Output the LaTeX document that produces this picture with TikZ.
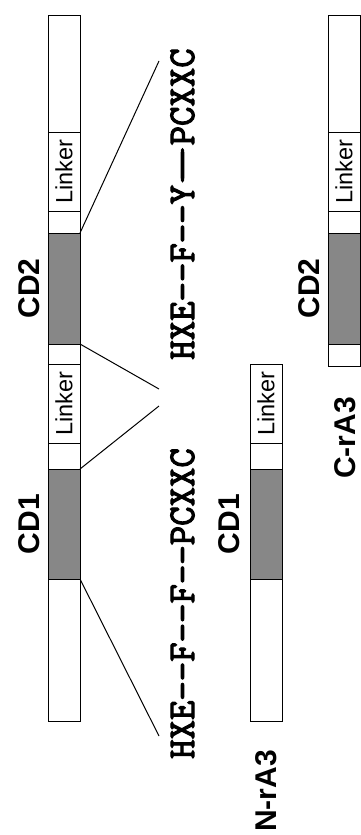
\documentclass[tikz,border=0pt]{standalone}
\usepackage{fontspec}
\setsansfont{Liberation Sans}
\setmonofont{Latin Modern Mono}[FakeBold=3]
\usepackage{graphicx}
\usetikzlibrary{positioning}

\tikzset{
	seg/.style={draw, line width=1pt, fill=white, minimum width=32pt, inner sep=0pt, outer sep=0pt},
	cd/.style={seg, fill=black!47},
	lnk/.style={seg, font=\sffamily\fontsize{23.5}{24}\selectfont},
	lbl/.style={inner sep=0pt, font=\sffamily\bfseries\fontsize{30}{31}\selectfont},
	sq/.style={inner sep=0pt, font=\ttfamily\fontsize{37.7}{38}\selectfont},
	conn/.style={line width=1pt}
}
\newcommand{\longdash}{\makebox[1.05em]{\scalebox{2.1}[1]{—}}}

\begin{document}
\begin{tikzpicture}[x=1pt,y=-1pt]
	\useasboundingbox (0,0) rectangle (361,835);
	
	% full construct
	\node[seg, minimum height=142pt] (a1) at (64,650) {};
	\node[cd, minimum height=110pt, above=0pt of a1] (a2) {};
	\node[seg, minimum height=26pt, above=0pt of a2] (a3) {};
	\node[lnk, minimum height=79pt, above=0pt of a3] (a4) {\rotatebox{90}{Linker}};
	\node[seg, minimum height=20pt, above=0pt of a4] (a5) {};
	\node[cd, minimum height=111pt, above=0pt of a5] (a6) {};
	\node[seg, minimum height=22pt, above=0pt of a6] (a7) {};
	\node[lnk, minimum height=79pt, above=0pt of a7] (a8) {\rotatebox{90}{Linker}};
	\node[seg, minimum height=117pt, above=0pt of a8] (a9) {};
	
	\node[lbl, left=8pt of a2] (cd1) {\rotatebox{90}{CD1}};
	\node[lbl, left=8pt of a6] (cd2) {\rotatebox{90}{CD2}};
	
	% N-rA3
	\node[seg, minimum height=142pt] (b1) at (266,650) {};
	\node[cd, minimum height=110pt, above=0pt of b1] (b2) {};
	\node[seg, minimum height=26pt, above=0pt of b2] (b3) {};
	\node[lnk, minimum height=79pt, above=0pt of b3] (b4) {\rotatebox{90}{Linker}};
	\node[lbl, left=10pt of b2] (ncd1) {\rotatebox{90}{CD1}};
	\node[lbl, below=29pt of b1] (nra) {\rotatebox{90}{N-rA3}};
	
	% C-rA3
	\node[seg, minimum height=22pt] (c1) at (344,355) {};
	\node[cd, minimum height=111pt, above=0pt of c1] (c2) {};
	\node[seg, minimum height=22pt, above=0pt of c2] (c3) {};
	\node[lnk, minimum height=79pt, above=0pt of c3] (c4) {\rotatebox{90}{Linker}};
	\node[seg, minimum height=117pt, above=0pt of c4] (c5) {};
	\node[lbl, left=8pt of c2] (ccd2) {\rotatebox{90}{CD2}};
	\node[lbl, below=31pt of c1, xshift=1pt] (cra) {\rotatebox{90}{C-rA3}};
	
	% sequences
	\node[sq] (s1) at (182.5,603.5) {\rotatebox{90}{HXE--F--F--PCXXC}};
	\node[sq] (s2) at (182.5,204) {\rotatebox{90}{HXE--F--Y\longdash PCXXC}};
	
	\coordinate (e1) at (159,736);
	\coordinate (e2) at (159,406);
	\coordinate (e3) at (159,389);
	\coordinate (e4) at (159,61);
	\draw[conn] (a1.north east) -- (e1);
	\draw[conn] (a2.north east) -- (e2);
	\draw[conn] (a6.south east) -- (e3);
	\draw[conn] (a6.north east) -- (e4);
\end{tikzpicture}
\end{document}
